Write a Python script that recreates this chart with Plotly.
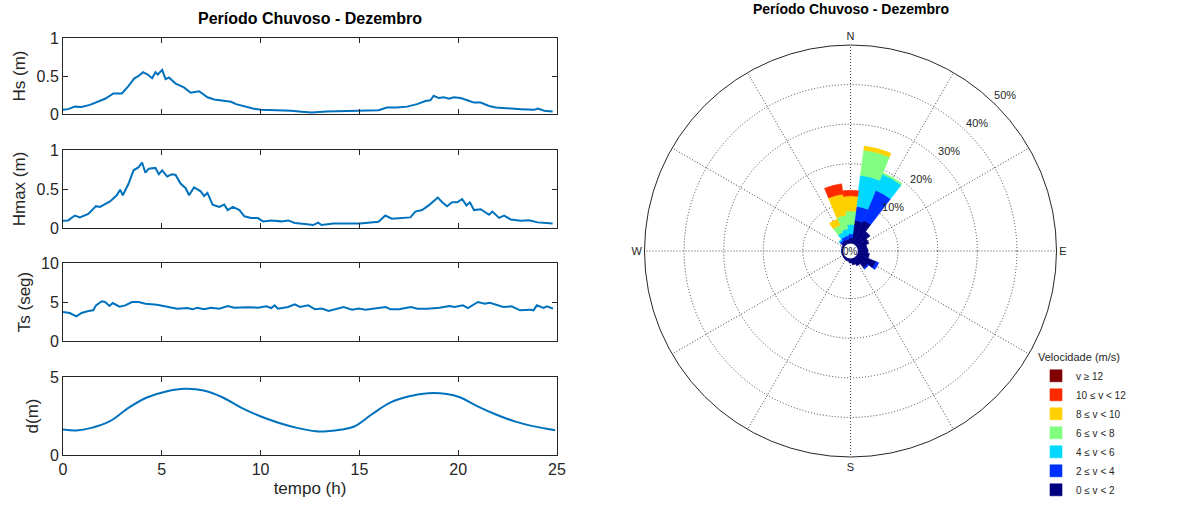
import plotly.graph_objects as go

# ---------------- time series data ----------------
hs_t = [0, 0.26, 0.60, 0.94, 1.36, 1.70, 2.13, 2.55, 2.98, 3.32, 3.61, 3.83, 4.05, 4.29, 4.51, 4.68,
        4.80, 5.02, 5.19, 5.36, 5.70, 6.12, 6.46, 6.89, 7.31, 7.65, 8.16, 8.50, 8.76, 9.18, 9.61,
        10.03, 10.88, 11.56, 12.07, 12.59, 13.34, 14.36, 15.20, 15.97, 16.39, 16.90, 17.41, 17.92,
        18.34, 18.59, 18.76, 19.02, 19.27, 19.53, 19.78, 20.12, 20.46, 20.80, 21.14, 21.56, 21.90,
        22.49, 23.17, 23.85, 24.02, 24.36, 24.78]
hs_v = [0.055, 0.064, 0.097, 0.093, 0.12, 0.16, 0.20, 0.27, 0.27, 0.37, 0.47, 0.50, 0.55, 0.52, 0.47, 0.55,
        0.52, 0.58, 0.46, 0.48, 0.40, 0.35, 0.28, 0.30, 0.22, 0.19, 0.17, 0.16, 0.13, 0.10, 0.072,
        0.055, 0.05, 0.042, 0.03, 0.02, 0.034, 0.042, 0.05, 0.05, 0.085, 0.085, 0.097, 0.13,
        0.17, 0.18, 0.24, 0.21, 0.22, 0.20, 0.22, 0.21, 0.18, 0.15, 0.15, 0.106, 0.085,
        0.072, 0.064, 0.055, 0.072, 0.042, 0.034]

hmax_t = [0, 0.26, 0.60, 0.85, 1.28, 1.67, 1.87, 2.38, 2.72, 2.89, 3.03, 3.32, 3.57, 3.83, 4.00, 4.17,
          4.34, 4.68, 4.85, 5.02, 5.27, 5.53, 5.70, 5.95, 6.21, 6.38, 6.63, 6.97, 7.14, 7.31, 7.57,
          7.91, 8.16, 8.33, 8.59, 8.93, 9.18, 9.52, 9.86, 10.12, 10.54, 11.05, 11.39, 11.73, 12.24,
          12.66, 12.92, 13.08, 13.68, 14.36, 15.03, 15.97, 16.31, 16.64, 17.24, 17.58, 17.83, 18.17,
          18.51, 18.76, 18.97, 19.19, 19.44, 19.69, 19.95, 20.20, 20.42, 20.59, 20.80, 21.14, 21.56,
          21.73, 22.07, 22.32, 22.66, 23.17, 23.59, 24.02, 24.78]
hmax_v = [0.093, 0.097, 0.16, 0.136, 0.18, 0.28, 0.27, 0.34, 0.42, 0.49, 0.42, 0.57, 0.74, 0.78, 0.84, 0.71,
          0.76, 0.77, 0.69, 0.74, 0.66, 0.69, 0.68, 0.57, 0.51, 0.42, 0.52, 0.47, 0.41, 0.45, 0.30,
          0.27, 0.30, 0.23, 0.27, 0.23, 0.15, 0.127, 0.127, 0.085, 0.097, 0.085, 0.097, 0.064, 0.05,
          0.038, 0.068, 0.038, 0.059, 0.059, 0.059, 0.08, 0.16, 0.12, 0.136, 0.136, 0.21, 0.23,
          0.29, 0.34, 0.39, 0.33, 0.28, 0.33, 0.33, 0.37, 0.29, 0.33, 0.23, 0.24, 0.17,
          0.21, 0.13, 0.16, 0.11, 0.093, 0.10, 0.072, 0.059]

ts_t = [0, 0.34, 0.68, 0.94, 1.28, 1.53, 1.67, 1.96, 2.13, 2.35, 2.52, 2.86, 3.15, 3.49, 3.83, 4.17,
        4.76, 5.27, 5.78, 6.29, 6.55, 6.80, 7.14, 7.48, 7.91, 8.33, 8.67, 9.35, 9.86, 10.29, 10.54,
        10.71, 10.88, 11.39, 11.73, 11.99, 12.41, 12.76, 13.10, 13.44, 13.95, 14.20, 14.63, 14.97,
        15.31, 15.82, 16.33, 16.58, 17.01, 17.60, 17.94, 18.45, 19.05, 19.56, 19.81, 20.24, 20.49,
        21.00, 21.34, 21.60, 21.94, 22.28, 22.70, 23.13, 23.64, 23.81, 23.98, 24.32, 24.49, 24.80]
ts_v = [3.72, 3.59, 3.16, 3.59, 3.85, 3.93, 4.57, 5.09, 5.0, 4.49, 4.87, 4.40, 4.57, 5.0, 5.0, 4.79,
        4.66, 4.44, 4.15, 4.23, 4.06, 4.27, 4.06, 4.27, 4.15, 4.49, 4.27, 4.32, 4.27, 4.44, 4.23,
        4.57, 4.15, 4.36, 4.70, 4.36, 4.57, 4.06, 4.15, 3.85, 4.15, 4.36, 4.02, 4.15,
        4.02, 4.15, 4.36, 4.06, 4.06, 4.36, 4.15, 4.15, 4.27, 4.49, 4.36, 4.57, 4.23,
        5.0, 4.79, 4.91, 4.66, 4.36, 4.44, 3.93, 4.02, 3.93, 4.57, 4.23, 4.44, 4.15]

d_t = [0, 0.68, 1.44, 2.38, 3.33, 4.28, 5.22, 6.17, 7.12, 8.06, 9.01, 9.95, 10.90, 11.85, 12.79,
       13.36, 14.12, 14.78, 15.63, 16.58, 17.52, 18.47, 19.42, 20.08, 20.93, 21.88, 22.82, 23.77, 24.91]
d_v = [1.63, 1.57, 1.74, 2.17, 3.04, 3.70, 4.07, 4.24, 4.13, 3.70, 3.04, 2.50, 2.07, 1.74, 1.52,
       1.52, 1.63, 1.85, 2.61, 3.37, 3.76, 3.96, 3.91, 3.70, 3.15, 2.61, 2.17, 1.85, 1.59]

ylabels = ["Hs (m)", "Hmax (m)", "Ts (seg)", "d(m)"]
yranges = [[0, 1], [0, 1], [0, 10], [0, 5]]
ydticks = [0.5, 0.5, 5, 5]
xticks = [0, 5, 10, 15, 20, 25]

# ---------------- wind rose data ----------------
directions = [0, 15, 30, 45, 60, 75, 90, 105, 120, 135, 150, 165,
              180, 195, 210, 225, 240, 255, 270, 285, 300, 315, 330, 345]
speed_labels = ["0 \u2264 v < 2", "2 \u2264 v < 4", "4 \u2264 v < 6", "6 \u2264 v < 8",
                "8 \u2264 v < 10", "10 \u2264 v < 12", "v \u2265 12"]
speed_colors = ["#000080", "#0030FF", "#00D8FF", "#80FF80", "#FFD000", "#FF2A00", "#800000"]
f_0_2   = [1.3, 5.8, 6.4, 4.2, 3.0, 2.2, 2.4, 2.8, 5.0, 3.5, 2.0, 1.5,
           1.0, 0.6, 0.5, 0.4, 0.3, 0.3, 0.3, 0.3, 0.4, 0.9, 1.0, 1.0]
f_2_4   = [1.0, 3.6, 8.2, 0, 0, 0, 0, 0, 0.7, 0.3, 0, 0,
           0, 0, 0, 0, 0, 0, 0, 0, 0, 0.5, 0.8, 0.9]
f_4_6   = [2.4, 7.9, 4.4, 0, 0, 0, 0, 0, 0, 0, 0, 0,
           0, 0, 0, 0, 0, 0, 0, 0, 0, 0.3, 1.3, 1.7]
f_6_8   = [3.4, 6.4, 0.4, 0, 0, 0, 0, 0, 0, 0, 0, 0,
           0, 0, 0, 0, 0, 0, 0, 0, 0, 0, 1.9, 3.5]
f_8_10  = [3.8, 1.0, 0, 0, 0, 0, 0, 0, 0, 0, 0, 0,
           0, 0, 0, 0, 0, 0, 0, 0, 0, 0, 1.7, 5.4]
f_10_12 = [1.4, 0, 0, 0, 0, 0, 0, 0, 0, 0, 0, 0,
           0, 0, 0, 0, 0, 0, 0, 0, 0, 0, 0, 2.6]
f_12p   = [0] * 24
freqs = [f_0_2, f_2_4, f_4_6, f_6_8, f_8_10, f_10_12, f_12p]
radial_ticks = [10, 20, 30, 40, 50]
radial_tick_text = ["10%", "20%", "30%", "40%", "50%"]
radial_label_dir = 45
compass_vals = [0, 30, 60, 90, 120, 150, 180, 210, 240, 270, 300, 330]
compass_text = ["N", "", "", "E", "", "", "S", "", "", "W", "", ""]

W, H = 1187, 517
FONT = "Liberation Sans, Arial, sans-serif"
TXT = "#262626"
LINEBLUE = "#0072BD"
GRID = "#444444"
DOT = "1px,2px"

fig = go.Figure()

# Left: four time-series panels
x_dom = [63 / W, 557 / W]
y_px = [(38, 114), (150, 228), (263, 341), (377, 455)]
series = [(hs_t, hs_v), (hmax_t, hmax_v), (ts_t, ts_v), (d_t, d_v)]
for i, ((t, v), (top, bot)) in enumerate(zip(series, y_px)):
    n = i + 1
    xa = "x" if n == 1 else f"x{n}"
    ya = "y" if n == 1 else f"y{n}"
    fig.add_trace(go.Scatter(x=t, y=v, mode="lines", xaxis=xa, yaxis=ya,
                             line=dict(color=LINEBLUE, width=2,
                                       shape="spline" if n == 4 else "linear",
                                       smoothing=1.0),
                             showlegend=False, hoverinfo="skip"))
    common = dict(showline=True, linecolor=TXT, linewidth=1, mirror="ticks",
                  ticks="inside", ticklen=5, tickcolor=TXT, showgrid=False,
                  zeroline=False, automargin=False,
                  tickfont=dict(family=FONT, size=16, color=TXT))
    fig.update_layout({
        ("xaxis" if n == 1 else f"xaxis{n}"): dict(
            domain=x_dom, anchor=ya, range=[0, 25], tickvals=xticks,
            showticklabels=(n == 4),
            title=dict(text="tempo (h)", font=dict(family=FONT, size=17, color=TXT),
                       standoff=4) if n == 4 else None,
            **common),
        ("yaxis" if n == 1 else f"yaxis{n}"): dict(
            domain=[1 - bot / H, 1 - top / H], anchor=xa, range=yranges[i],
            dtick=ydticks[i], tick0=0,
            title=dict(text=ylabels[i], font=dict(family=FONT, size=17, color=TXT),
                       standoff=6),
            **common),
    })

# Right: wind rose
for k in range(len(freqs)):
    fig.add_trace(go.Barpolar(r=freqs[k], theta=directions, width=[15] * len(directions),
                              name=speed_labels[k],
                              marker=dict(color=speed_colors[k],
                                          line=dict(color=speed_colors[k], width=0.6)),
                              hoverinfo="skip"))

cx, cy, R = 850.5, 251, 206
HOLE_PX = 8
px_per_pct = (R - HOLE_PX) / 50
R2 = HOLE_PX + px_per_pct * 60   # overlay polar with the same scale, range 0-60

# radial percentage labels on an overlay polar sharing the same centre and scale
fig.add_trace(go.Scatterpolar(r=[v + 3.2 for v in radial_ticks],
                              theta=[radial_label_dir] * len(radial_ticks),
                              text=radial_tick_text, mode="text", subplot="polar2",
                              textfont=dict(family=FONT, size=11, color=TXT),
                              showlegend=False, hoverinfo="skip"))


def dom(rad):
    return dict(x=[(cx - rad) / W, (cx + rad) / W], y=[1 - (cy + rad) / H, 1 - (cy - rad) / H])


fig.update_layout(
    polar=dict(
        domain=dom(R),
        hole=HOLE_PX / R,
        bgcolor="white",
        barmode="stack",
        bargap=0,
        radialaxis=dict(range=[0, 50], tickvals=radial_ticks, showticklabels=False,
                        angle=45, showline=False, ticks="",
                        showgrid=True, gridcolor=GRID, griddash=DOT, gridwidth=1),
        angularaxis=dict(rotation=90, direction="clockwise", tickmode="array",
                         tickvals=compass_vals, ticktext=compass_text, ticks="",
                         showline=True, linecolor=TXT, linewidth=1,
                         showgrid=True, gridcolor=GRID, griddash=DOT, gridwidth=1,
                         tickfont=dict(family=FONT, size=11, color=TXT)),
    ),
    polar2=dict(
        domain=dom(R2),
        hole=HOLE_PX / R2,
        bgcolor="rgba(0,0,0,0)",
        radialaxis=dict(range=[0, 60], visible=False),
        angularaxis=dict(rotation=90, direction="clockwise", visible=False),
    ),
    legend=dict(x=1036 / W, y=1 - 347 / H, xanchor="left", yanchor="top",
                traceorder="reversed", bgcolor="rgba(0,0,0,0)",
                font=dict(family=FONT, size=10, color=TXT),
                title=dict(text="Velocidade (m/s)", font=dict(family=FONT, size=11, color=TXT)),
                tracegroupgap=0, itemwidth=30),
)

# circle for 0% hole and its label
fig.add_shape(type="circle", xref="paper", yref="paper",
              x0=(cx - HOLE_PX) / W, x1=(cx + HOLE_PX) / W,
              y0=1 - (cy + HOLE_PX) / H, y1=1 - (cy - HOLE_PX) / H,
              line=dict(color="#000080", width=1.2), fillcolor="white", layer="above")
fig.add_annotation(x=cx / W, y=1 - cy / H, xref="paper", yref="paper", text="0%",
                   xanchor="center", yanchor="middle",
                   showarrow=False, font=dict(family=FONT, size=10, color=TXT))

# Titles
fig.add_annotation(x=310 / W, y=1 - 18 / H, xref="paper", yref="paper",
                   text="<b>Período Chuvoso - Dezembro</b>", showarrow=False,
                   xanchor="center", yanchor="middle",
                   font=dict(family=FONT, size=16, color="#000000"))
fig.add_annotation(x=851 / W, y=1 - 9 / H, xref="paper", yref="paper",
                   text="<b>Período Chuvoso - Dezembro</b>", showarrow=False,
                   xanchor="center", yanchor="middle",
                   font=dict(family=FONT, size=14, color="#000000"))

fig.update_layout(width=W, height=H, margin=dict(l=0, r=0, t=0, b=0),
                  paper_bgcolor="white", plot_bgcolor="white",
                  font=dict(family=FONT, color=TXT))

fig.write_html("out.html", config={"displayModeBar": False},
               post_script="document.body.style.margin='0px';")
